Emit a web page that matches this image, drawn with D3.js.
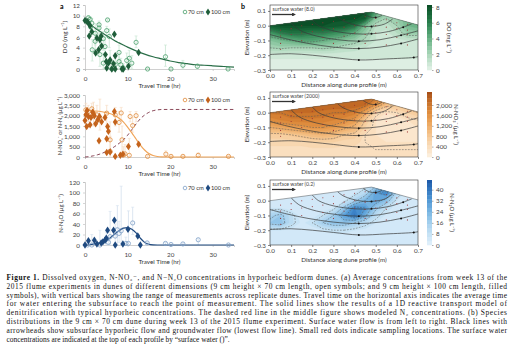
<!DOCTYPE html>
<html><head><meta charset="utf-8">
<script src="https://cdn.jsdelivr.net/npm/d3@7"></script>
<style>body{margin:0;background:#fff}svg{display:block}</style></head>
<body><svg id="c" width="515" height="355"></svg>
<script>
// ---------- DATA: panel a (travel time, hr) ----------
const doOpenT  = [0.8,1.2,1.6,1.3,2.4,3.3,3.3,5.3,5.1,5.7,4.3,1.7,2.4,3.5,4.7,4.3,5.9,6.3,7.1,8.0,8.0,8.4,9.0,9.8,10.4,11.0,12.0,14.7,18.9,20.2,23.0,26.4,33.6];
const doOpenV  = [9.6,9.3,8.6,7.9,6.7,8.3,7.7,9.2,7.2,6.1,5.7,3.6,5.2,2.7,4.2,1.1,1.4,0.0,0.8,1.4,3.1,0.8,0.2,1.6,2.0,1.1,5.0,0.0,2.3,0.0,0.7,0.5,0.0];
const doOpenLo = [8.8,8.5,7.5,6.5,4.5,6.5,6.0,9.0,6.0,4.0,3.5,1.5,3.0,0.5,2.0,0.0,0.0,0.0,0.0,0.0,1.5,0.0,0.0,0.3,0.5,0.0,4.0,0.0,0.5,0.0,0.0,0.0,0.0];
const doOpenHi = [10.0,9.8,9.5,9.2,8.5,9.0,8.5,9.4,8.0,7.5,7.0,5.5,7.0,5.0,6.0,3.0,3.5,0.5,2.0,3.0,4.5,2.0,1.0,3.0,3.5,2.5,6.2,0.2,4.5,0.2,1.6,1.0,0.2];
const doFillT  = [0,0.5,0.8,1.2,1.0,1.6,2.8,3.5,3.8,2.5,3.2,3.9,4.8,5.1,5.0,5.5,5.9,6.9,7.1,6.7,6.3,7.1,8.7,9.0,10.2,12.6];
const doFillV  = [9.1,8.9,8.6,8.1,6.2,7.0,5.8,5.5,6.2,3.0,3.6,4.3,2.7,0.2,1.4,1.1,1.7,6.5,2.5,1.0,0.0,0.0,0.0,0.0,0.5,3.1];
const doModelT = [0,1,2,3,4,5,6,7,8,9,10,12,14,16,18,20,22,24,26,28,30,32,35];
const doModelV = [9.1,8.5,7.9,7.3,6.8,6.3,5.8,5.3,4.9,4.5,4.1,3.4,2.8,2.3,1.9,1.5,1.2,1.0,0.8,0.7,0.6,0.5,0.35];

const noOpenT  = [0.2,0.8,1.6,2.0,2.8,3.5,5.1,5.9,5.9,7.1,8.0,8.5,8.7,9.0,9.4,10.4,10.6,11.2,12.0,14.7,19.0,20.2,23.0,26.6,33.7];
const noOpenV  = [2280,2200,2330,2120,2040,1880,2120,830,270,2040,1670,2130,830,100,150,80,1960,1520,2000,30,140,30,30,80,30];
const noOpenLo = [1800,1700,2000,1500,1600,1300,1600,300,0,1500,1200,1800,200,0,0,0,1700,1200,1700,0,0,0,0,0,0];
const noOpenHi = [2600,2500,2600,2650,2500,2800,2500,1700,1000,2400,2200,2400,1500,500,600,900,2200,1900,2200,100,300,80,60,200,60];
const noFillT  = [0,0.2,0.5,0.8,0.4,1.2,1.4,1.8,2.2,2.5,3.0,3.4,3.3,3.9,4.7,5.1,5.3,5.5,5.1,5.9,6.9,7.1,7.1,8.3,8.9,10.2,12.6];
const noFillV  = [1770,2040,2250,1960,1480,1560,1910,2170,2000,1610,1800,1960,790,1700,1910,880,1480,1240,220,240,2200,1690,30,80,140,510,620];
const noModelT = [0,2,4,5,6,7,8,9,10,11,12,13,14,15,16,17,18,20,25,35];
const noModelV = [2250,2230,2190,2150,2090,2000,1880,1700,1450,1170,870,580,340,170,70,25,8,0,0,0];
const n2ModelT = [0,1,2,3,4,5,6,7,8,9,10,11,12,13,14,15,16,17,18,20,25,30,35];
const n2ModelV = [0,20,60,110,180,270,380,510,660,830,1050,1330,1600,1850,2030,2160,2240,2280,2300,2300,2300,2300,2300];

const n2oOpenT  = [0.6,1.6,3.5,5.0,5.5,5.9,7.1,7.6,8.0,8.5,9.6,10.2,11.2,14.6,18.9,20.2,23.0,26.6,33.7];
const n2oOpenV  = [0,0,0,11,5,16,17,29,22,27,3,3,42,4,3,1,2,10,0];
const n2oOpenLo = [0,0,0,0,0,0,0,0,5,0,0,0,20,0,0,0,0,0,0];
const n2oOpenHi = [0,20,28,25,15,64,40,75,45,112,15,65,72,6,5,2,4,12,0];
const n2oFillT  = [0,0.8,2.2,2.8,3.8,4.2,4.7,5.0,5.3,6.7,6.9,7.1,8.9,10.1,12.4,13.0];
const n2oFillV  = [0,8,9,2,4,6,9,13,28,28,47,0,2,30,17,0];
const n2oModelT = [0,1,2,3,4,5,6,7,8,9,10,11,12,13,14,15,16,17,20,35];
const n2oModelV = [0,0.5,1.5,3.5,5,8,14,21,27,32,33,30,23,13,5,1.5,0.3,0,0,0];

const xTicksA = [0,10,20,30];

// ---------- DATA: panel b (distance x 0..0.7 step .05; elevation rows 0.1 .. -0.3 step .05) ----------
const gridX0 = 0, gridDX = 0.05, gridY0 = 0.1, gridDY = 0.05;
const doGrid = [
 [8.2,8.2,8.2,8.2,8.2,8.2,8.2,8.2,8.2,8.2,5,3,3,3.5,4],
 [8.2,8.2,8.2,8.2,8.2,8.2,8.2,8.2,8.2,7.5,3,2,2.5,3.5,4],
 [7.5,8,8,8,8,8,7.8,7.5,6.5,3.5,1.5,1.2,2,3.5,4],
 [5,6,6.5,6.5,6,6,5.5,5,4,2.5,1,0.8,1.5,2.5,2.5],
 [3,3.5,4,4.5,4.5,4,3.5,3,2.5,1.8,1,0.8,0.8,1,1],
 [2,2.2,2,2,2,2.2,2,1.5,1.3,1,0.8,0.6,0.6,0.6,0.6],
 [0.6,0.6,0.6,0.6,0.6,0.6,0.6,0.6,0.6,0.6,0.6,0.6,0.6,0.6,0.6],
 [0.4,0.4,0.4,0.4,0.4,0.4,0.4,0.4,0.4,0.4,0.4,0.4,0.4,0.4,0.4],
 [0.4,0.4,0.4,0.4,0.4,0.4,0.4,0.4,0.4,0.4,0.4,0.4,0.4,0.4,0.4]];
const noGrid = [
 [2300,2300,2300,2300,2300,2300,2300,2300,2300,2300,2000,1500,1200,1200,1200],
 [2200,2200,2200,2200,2200,2200,2200,2200,2200,2100,1500,900,800,1000,1100],
 [2000,2000,2100,2100,2100,2050,2000,2000,1900,1300,500,300,400,600,800],
 [1700,1800,1900,1900,1900,1900,1800,1700,1500,800,300,200,200,300,400],
 [1200,1300,1400,1500,1600,1600,1500,1300,1100,600,300,200,200,200,300],
 [700,700,800,900,1000,1100,1000,800,700,400,300,200,200,200,200],
 [500,500,500,500,600,600,600,500,500,400,300,300,300,300,300],
 [400,400,400,400,400,400,400,400,400,400,400,400,400,400,400],
 [400,400,400,400,400,400,400,400,400,400,400,400,400,400,400]];
const n2oGrid = [
 [4,4,4,4,4,4,4,4,4,6,15,25,10,4,4],
 [4,4,4,4,4,4,4,4,6,12,30,36,12,4,4],
 [4,4,4,4,4,4,4,6,14,24,28,20,6,4,4],
 [6,6,4,4,4,4,6,18,36,32,18,8,4,4,4],
 [14,18,10,4,4,8,16,30,40,26,10,5,4,4,4],
 [18,20,10,5,8,16,20,20,16,10,6,4,4,4,4],
 [6,6,5,4,4,6,8,8,6,5,4,4,4,4,4],
 [3,3,3,3,3,3,3,3,3,3,3,3,3,3,3],
 [3,3,3,3,3,3,3,3,3,3,3,3,3,3,3]];
const duneOutline = [[0,0],[0.48,0.092],[0.7,0.005],[0.7,-0.3],[0,-0.3]];
const flowLines = [
 [[0,-0.195],[0.1,-0.19],[0.2,-0.2],[0.3,-0.215],[0.42,-0.232],[0.55,-0.225],[0.68,-0.215],[0.7,-0.21]],
 [[0,-0.06],[0.08,-0.09],[0.18,-0.12],[0.3,-0.145],[0.42,-0.155],[0.52,-0.145],[0.62,-0.12],[0.7,-0.09]],
 [[0.1,0.019],[0.14,-0.03],[0.22,-0.07],[0.32,-0.095],[0.42,-0.105],[0.52,-0.095],[0.62,-0.065],[0.7,-0.035]],
 [[0.2,0.038],[0.23,0.0],[0.3,-0.035],[0.4,-0.055],[0.48,-0.055],[0.56,-0.04],[0.63,-0.01],[0.67,0.012]],
 [[0.32,0.06],[0.35,0.03],[0.42,0.0],[0.48,-0.005],[0.54,0.01],[0.58,0.045]],
 [[0.44,0.083],[0.47,0.06],[0.5,0.055],[0.53,0.07]]];
const samplePts = [[0.05,-0.03],[0.1,-0.02],[0.15,0.0],[0.2,0.01],[0.25,0.02],[0.3,0.03],[0.35,0.04],[0.4,0.05],[0.45,0.06],[0.5,0.05],[0.55,0.04],[0.6,0.02],[0.65,0.01],
 [0.05,-0.07],[0.1,-0.06],[0.15,-0.05],[0.2,-0.04],[0.25,-0.03],[0.3,-0.02],[0.35,-0.01],[0.4,0.0],[0.45,-0.01],[0.5,0.0],[0.55,-0.01],[0.6,-0.02],[0.65,-0.03],
 [0.05,-0.12],[0.15,-0.1],[0.25,-0.08],[0.35,-0.07],[0.4,-0.05],[0.45,-0.06],[0.5,-0.05],[0.55,-0.06],[0.6,-0.08],[0.65,-0.06],
 [0.05,-0.16],[0.3,-0.12],[0.45,-0.12],[0.55,-0.13],[0.65,-0.13]];
const xTicksB = [0,0.1,0.2,0.3,0.4,0.5,0.6,0.7];
const yTicksB = [-0.3,-0.2,-0.1,0.0,0.1];

const captionLines = [
 ["Figure 1.", " Dissolved oxygen, N-NO₃⁻, and N−N₂O concentrations in hyporheic bedform dunes. (a) Average concentrations from week 13 of the"],
 ["", "2015 flume experiments in dunes of different dimensions (9 cm height × 70 cm length, open symbols; and 9 cm height × 100 cm length, filled"],
 ["", "symbols), with vertical bars showing the range of measurements across replicate dunes. Travel time on the horizontal axis indicates the average time"],
 ["", "for water entering the subsurface to reach the point of measurement. The solid lines show the results of a 1D reactive transport model of"],
 ["", "denitrification with typical hyporheic concentrations. The dashed red line in the middle figure shows modeled N₂ concentrations. (b) Species"],
 ["", "distributions in the 9 cm × 70 cm dune during week 13 of the 2015 flume experiment. Surface water flow is from left to right. Black lines with"],
 ["", "arrowheads show subsurface hyporheic flow and groundwater flow (lowest flow line). Small red dots indicate sampling locations. The surface water"],
 ["", "concentrations are indicated at the top of each profile by “surface water ()”."]];

// ---------- DRAW ----------
const svg = d3.select('#c');
const defs = svg.append('defs');
const sans = 'Lato, "Open Sans", sans-serif';
const xL = d3.scaleLinear([0,35],[85,234]);
const xR = d3.scaleLinear([0,0.7],[270,418]);

function styleAxis(g, col) {
  g.select('.domain').attr('stroke', col).attr('stroke-width', 0.7);
  g.selectAll('.tick line').attr('stroke', col).attr('stroke-width', 0.6);
  g.selectAll('.tick text').attr('fill', '#444').attr('font-family', sans).attr('font-size', 6.3);
}

function leftPanel(o) {
  const y = d3.scaleLinear(o.domain, [o.bottom, o.top]);
  const g = svg.append('g');
  const ax = g.append('g').attr('transform', `translate(0,${o.bottom})`)
    .call(d3.axisBottom(xL).tickValues(xTicksA).tickSize(2).tickPadding(6).tickFormat(d3.format('d')));
  styleAxis(ax, '#bbb');
  const ay = g.append('g').attr('transform', 'translate(85,0)')
    .call(d3.axisLeft(y).tickValues(o.ticks).tickSize(2).tickPadding(3).tickFormat(o.fmt));
  styleAxis(ay, '#bbb');
  g.append('text').attr('x', (85+234)/2).attr('y', o.bottom + 19).attr('text-anchor', 'middle')
    .attr('font-family', sans).attr('font-size', 6.3).attr('fill', '#333').text('Travel Time (hr)');
  g.append('text').attr('transform', `translate(${o.titleX},${(o.top+o.bottom)/2}) rotate(-90)`)
    .attr('text-anchor', 'middle').attr('font-family', sans).attr('font-size', o.titleSize).attr('fill', '#333').text(o.title);
  // error bars
  g.append('g').selectAll('line').data(o.openT.map((t,i)=>[t,o.openLo[i],o.openHi[i]])).join('line')
    .attr('x1', d=>xL(d[0])).attr('x2', d=>xL(d[0])).attr('y1', d=>y(d[1])).attr('y2', d=>y(d[2]))
    .attr('stroke', o.errCol).attr('stroke-width', 0.8);
  g.append('g').selectAll('path').data(o.openT.map((t,i)=>[t,o.openLo[i],o.openHi[i]]).filter(d=>d[2]-d[1]>0)).join('path')
    .attr('d', d=>`M${xL(d[0])-1.5},${y(d[1])}h3M${xL(d[0])-1.5},${y(d[2])}h3`)
    .attr('stroke', o.errCol).attr('stroke-width', 0.6);
  // model curves
  const line = d3.line().x(d=>xL(d[0])).y(d=>y(d[1])).curve(d3.curveMonotoneX);
  if (o.dashT) g.append('path').attr('d', line(o.dashT.map((t,i)=>[t,o.dashV[i]])))
    .attr('fill','none').attr('stroke', '#8c4a5a').attr('stroke-width', 1).attr('stroke-dasharray', '3.5,2.5');
  g.append('path').attr('d', line(o.modelT.map((t,i)=>[t,o.modelV[i]])))
    .attr('fill','none').attr('stroke', o.curveCol).attr('stroke-width', 1.2);
  // points
  g.append('g').selectAll('circle').data(o.openT.map((t,i)=>[t,o.openV[i]])).join('circle')
    .attr('cx', d=>xL(d[0])).attr('cy', d=>y(d[1])).attr('r', 2.1)
    .attr('fill', 'none').attr('stroke', o.openCol).attr('stroke-width', 0.8);
  const diam = d3.symbol(d3.symbolDiamond, 16);
  g.append('g').selectAll('path').data(o.fillT.map((t,i)=>[t,o.fillV[i]])).join('path')
    .attr('d', diam).attr('transform', d=>`translate(${xL(d[0])},${y(d[1])}) scale(1.15,1)`)
    .attr('fill', o.fillCol);
  // legend
  const ly = o.top + o.legendDy;
  g.append('circle').attr('cx', 185).attr('cy', ly).attr('r', 1.8).attr('fill','none').attr('stroke', o.openCol).attr('stroke-width', 0.8);
  g.append('text').attr('x', 188).attr('y', ly+2).attr('font-family', sans).attr('font-size', 5.8).attr('fill','#333').text('70 cm');
  g.append('path').attr('d', d3.symbol(d3.symbolDiamond, 14)).attr('transform', `translate(208,${ly}) scale(1.15,1)`).attr('fill', o.fillCol);
  g.append('text').attr('x', 211).attr('y', ly+2).attr('font-family', sans).attr('font-size', 5.8).attr('fill','#333').text('100 cm');
}

leftPanel({domain:[0,12], top:5, bottom:69, ticks:[0,2,4,6,8,10,12], fmt:d3.format('d'),
  title:'DO (mg L⁻¹)', titleX:67, titleSize:6.3, legendDy:7,
  openT:doOpenT, openV:doOpenV, openLo:doOpenLo, openHi:doOpenHi, fillT:doFillT, fillV:doFillV,
  modelT:doModelT, modelV:doModelV, openCol:'#4aa06c', fillCol:'#1f5e3a', curveCol:'#2a6e48', errCol:'#c6e6d2'});
leftPanel({domain:[0,3000], top:95, bottom:157, ticks:[0,500,1000,1500,2000,2500,3000], fmt:d3.format(','),
  title:'N-NO₃⁻ or N-N₂ (µg L⁻¹)', titleX:62, titleSize:5.6, legendDy:5,
  openT:noOpenT, openV:noOpenV, openLo:noOpenLo, openHi:noOpenHi, fillT:noFillT, fillV:noFillV,
  modelT:noModelT, modelV:noModelV, dashT:n2ModelT, dashV:n2ModelV,
  openCol:'#e08a3a', fillCol:'#c4631c', curveCol:'#f0a55a', errCol:'#f6dcc3'});
leftPanel({domain:[0,120], top:182, bottom:245, ticks:[0,20,40,60,80,100,120], fmt:d3.format('d'),
  title:'N-N₂O (µg L⁻¹)', titleX:63, titleSize:6.0, legendDy:6,
  openT:n2oOpenT, openV:n2oOpenV, openLo:n2oOpenLo, openHi:n2oOpenHi, fillT:n2oFillT, fillV:n2oFillV,
  modelT:n2oModelT, modelV:n2oModelV, openCol:'#7f9fc6', fillCol:'#1f4a80', curveCol:'#1f4a80', errCol:'#d3e0ee'});

// arrow marker
defs.append('marker').attr('id','arr').attr('viewBox','0 0 10 10').attr('refX',5).attr('refY',5)
  .attr('markerWidth',3).attr('markerHeight',3).attr('orient','auto')
  .append('path').attr('d','M0,0L10,5L0,10z').attr('fill','#333');

let clipN = 0;
function rightPanel(o) {
  const y = d3.scaleLinear([-0.3,0.14],[o.bottom,o.top]);
  const g = svg.append('g');
  const id = 'clip' + (clipN++);
  defs.append('clipPath').attr('id', id).append('path')
    .attr('d', d3.line()(duneOutline.map(p=>[xR(p[0]), y(p[1])])) + 'Z');
  const nx = o.grid[0].length, ny = o.grid.length;
  const values = o.grid.flat();
  const levels = d3.range(0, o.vmax, o.step);
  const contours = d3.contours().size([nx, ny]).thresholds(levels)(values);
  const pt = (px, py) => xR(gridX0 + (px-0.5)*gridDX).toFixed(2) + ',' + y(gridY0 - (py-0.5)*gridDY).toFixed(2);
  const mpPath = mp => mp.coordinates.map(poly => poly.map(ring => 'M' + ring.map(p => pt(p[0], p[1])).join('L') + 'Z').join('')).join('');
  const col = v => o.interp(Math.min(1, v / o.vmax));
  const cg = g.append('g').attr('clip-path', `url(#${id})`);
  cg.selectAll('path.f').data(contours).join('path').attr('class','f').attr('d', mpPath).attr('fill-rule','evenodd')
    .attr('fill', d => col(d.value + o.step/2)).attr('stroke', d => col(d.value + o.step/2)).attr('stroke-width', 0.3);
  const lineContours = d3.contours().size([nx, ny]).thresholds(o.lines)(values);
  cg.selectAll('path.l').data(lineContours).join('path').attr('class','l').attr('d', mpPath)
    .attr('fill','none').attr('stroke','#555').attr('stroke-width',0.5).attr('stroke-dasharray','1.8,1.2');
  const fl = d3.line().x(d=>xR(d[0])).y(d=>y(d[1])).curve(d3.curveCatmullRom);
  cg.selectAll('path.fl').data(flowLines).join('path').attr('class','fl').attr('d', fl)
    .attr('fill','none').attr('stroke','#3a3a3a').attr('stroke-width',0.7);
  cg.selectAll('circle.fd').data(flowLines.map(l => l[Math.floor(l.length/2)])).join('circle').attr('class','fd')
    .attr('cx', d=>xR(d[0])).attr('cy', d=>y(d[1])).attr('r', 1).attr('fill','#111');
  cg.selectAll('circle.fd2').data(flowLines.filter(l=>l.length>6).map(l => l[l.length-2])).join('circle').attr('class','fd2')
    .attr('cx', d=>xR(d[0])).attr('cy', d=>y(d[1])).attr('r', 1).attr('fill','#111');
  g.append('g').selectAll('circle').data(samplePts).join('circle')
    .attr('cx', d=>xR(d[0])).attr('cy', d=>y(d[1])).attr('r', 0.55).attr('fill', '#9a3030');
  // dune top outline
  g.append('path').attr('d', d3.line()(duneOutline.slice(0,3).map(p=>[xR(p[0]), y(p[1])])))
    .attr('fill','none').attr('stroke','#555').attr('stroke-width',0.5);
  // frame & axes
  g.append('rect').attr('x', 270).attr('y', o.top).attr('width', 148).attr('height', o.bottom - o.top)
    .attr('fill','none').attr('stroke','#333').attr('stroke-width',0.6);
  const ax = g.append('g').attr('transform', `translate(0,${o.bottom})`)
    .call(d3.axisBottom(xR).tickValues(xTicksB).tickSize(2).tickPadding(1.5).tickFormat(d3.format('.1f')));
  styleAxis(ax, '#333'); ax.select('.domain').remove();
  const ay = g.append('g').attr('transform', 'translate(270,0)')
    .call(d3.axisLeft(y).tickValues(yTicksB).tickSize(2).tickPadding(2).tickFormat(d3.format('.1f')));
  styleAxis(ay, '#333'); ay.select('.domain').remove();
  g.append('text').attr('x', 344).attr('y', o.bottom + 17).attr('text-anchor','middle')
    .attr('font-family', sans).attr('font-size', 6.3).attr('fill','#333').text('Distance along dune profile (m)');
  g.append('text').attr('transform', `translate(249,${(o.top+o.bottom)/2}) rotate(-90)`).attr('text-anchor','middle')
    .attr('font-family', sans).attr('font-size', 6.3).attr('fill','#333').text('Elevation (m)');
  // surface water annotation
  g.append('text').attr('x', 272.5).attr('y', o.top + 5.5).attr('font-family', sans).attr('font-size', 5.2)
    .attr('fill','#444').text(o.swLabel);
  g.append('line').attr('x1', 272).attr('x2', 294).attr('y1', o.top + 9.5).attr('y2', o.top + 9.5)
    .attr('stroke','#333').attr('stroke-width',1.3).attr('marker-end','url(#arr)');
  // colorbar
  const cb = d3.scaleLinear([0, o.vmax], [o.bottom, o.top]);
  g.append('g').selectAll('rect').data(levels).join('rect')
    .attr('x', 427).attr('width', 5).attr('y', d => cb(Math.min(o.vmax, d + o.step))).attr('height', d => cb(d) - cb(Math.min(o.vmax, d + o.step)) + 0.3)
    .attr('fill', d => col(d + o.step/2));
  const ac = g.append('g').attr('transform','translate(432,0)')
    .call(d3.axisRight(cb).tickValues(o.cbTicks).tickSize(1.5).tickPadding(2.5).tickFormat(o.cbFmt));
  styleAxis(ac, '#777'); ac.select('.domain').remove();
  g.append('text').attr('transform', `translate(${o.cbTitleX},${(o.top+o.bottom)/2}) rotate(90)`).attr('text-anchor','middle')
    .attr('font-family', sans).attr('font-size', 6.0).attr('fill','#333').text(o.cbTitle);
}

rightPanel({top:5, bottom:70, grid:doGrid, vmax:8.25, step:0.5, lines:[2,4,6],
  interp:d3.interpolateRgbBasis(['#e5f3e9','#a9d6b8','#5eae7d','#237c48','#0b4f27']),
  cbTicks:[0,2,4,6,8], cbFmt:d3.format('d'), cbTitle:'DO (mg L⁻¹)', cbTitleX:447, swLabel:'surface water (8.0)'});
rightPanel({top:92, bottom:157, grid:noGrid, vmax:2500, step:150, lines:[400,800,1200,1600,2000],
  interp:d3.interpolateRgbBasis(['#fdf1e2','#f8d4a8','#efab62','#dc8430','#a64d16']),
  cbTicks:[0,400,800,1200,1600,2000], cbFmt:d3.format(','), cbTitle:'N-NO₃⁻ (µg L⁻¹)', cbTitleX:454, swLabel:'surface water (2000)'});
rightPanel({top:180, bottom:245, grid:n2oGrid, vmax:47, step:3, lines:[8,16,24,32],
  interp:d3.interpolateRgbBasis(['#e2f1fb','#b9dbf2','#7fbbe5','#3f8cd0','#1f5aa8']),
  cbTicks:[0,8,16,24,32,40], cbFmt:d3.format('d'), cbTitle:'N-N₂O (µg L⁻¹)', cbTitleX:450, swLabel:'surface water (0.2)'});

// panel letters
svg.append('text').attr('x', 60).attr('y', 9).attr('font-family', sans).attr('font-weight','bold').attr('font-size', 7).text('a');
svg.append('text').attr('x', 241).attr('y', 9).attr('font-family', sans).attr('font-weight','bold').attr('font-size', 7).text('b');

// caption
const cap = svg.append('g').attr('font-family','"Liberation Serif", "DejaVu Serif", serif').attr('font-size', 7.4).attr('fill','#111');
captionLines.forEach((ln, i) => {
  const t = cap.append('text').attr('x', 6.5).attr('y', 279.8 + i * 8.85);
  if (i < captionLines.length - 1) t.attr('textLength', 500.5).attr('lengthAdjust', 'spacing');
  if (ln[0]) t.append('tspan').attr('font-weight','bold').text(ln[0]);
  t.append('tspan').text(ln[1]);
});
</script></body></html>
